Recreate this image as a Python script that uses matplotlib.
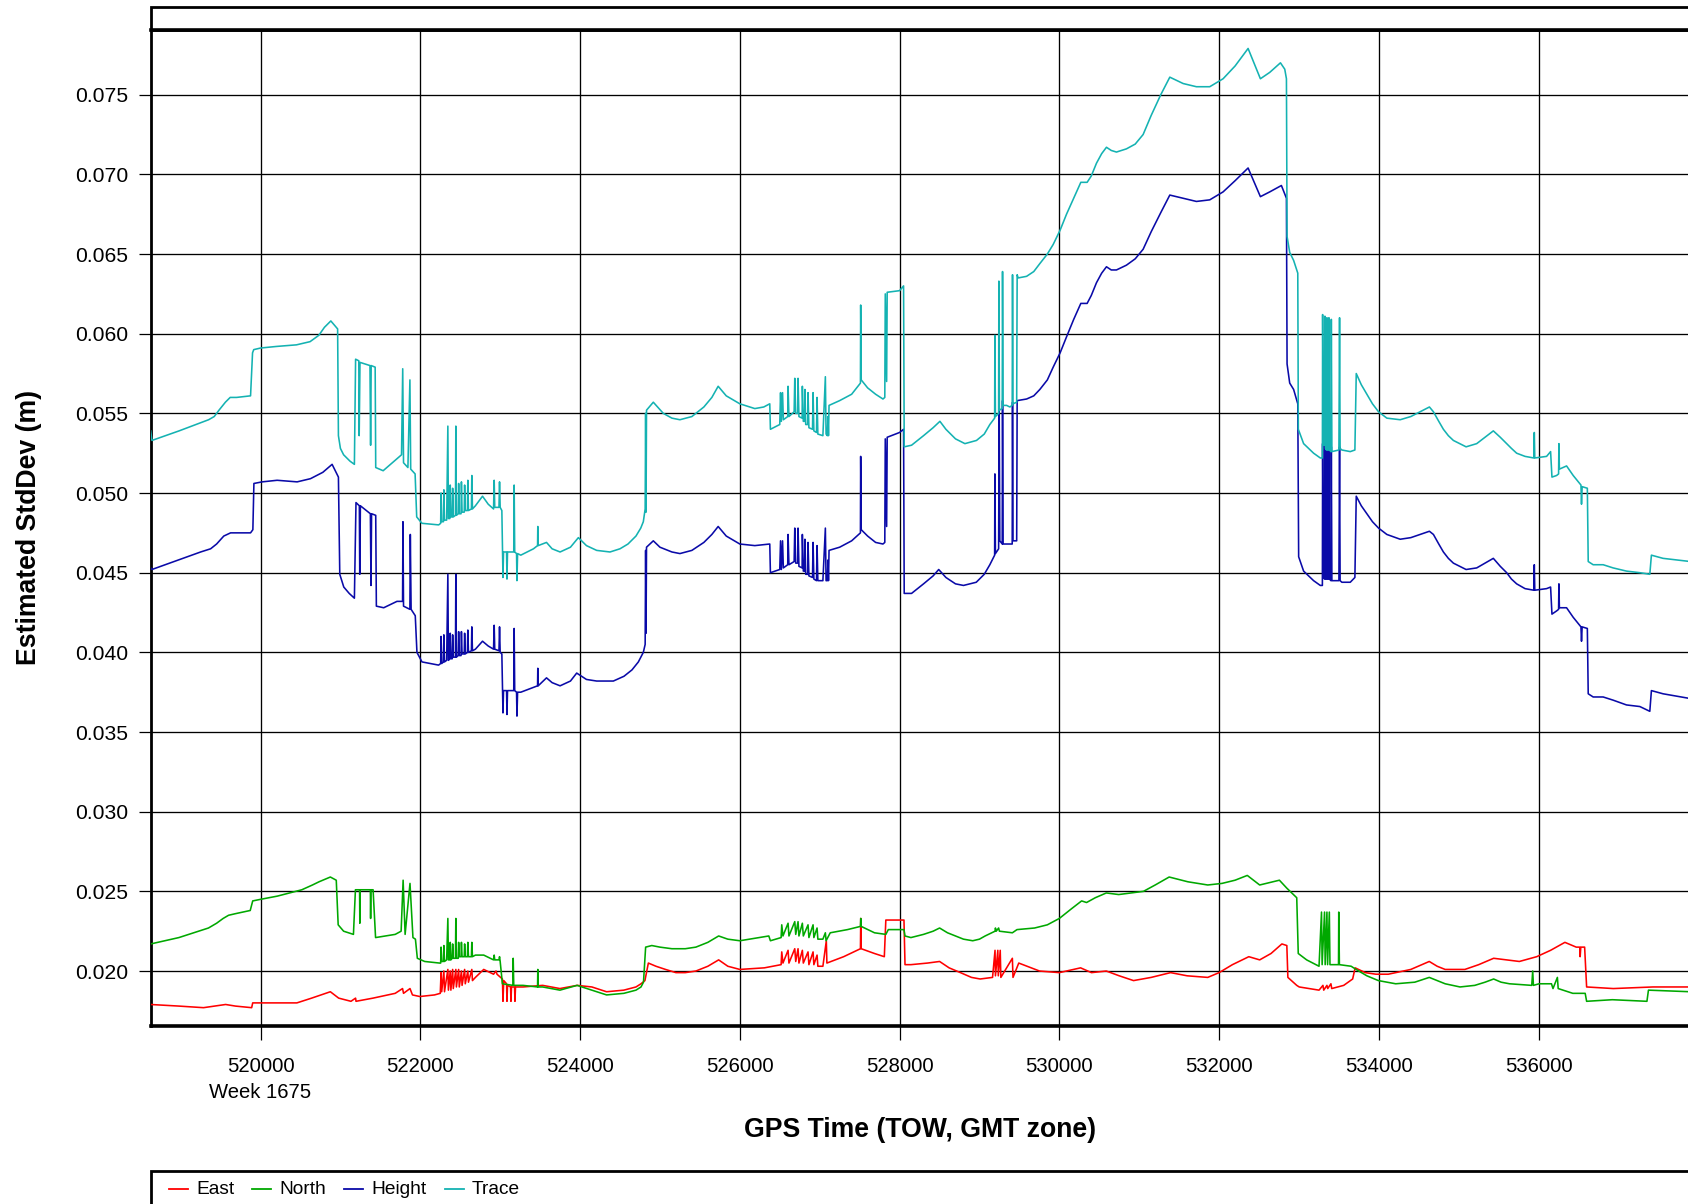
import matplotlib
matplotlib.use("Agg")
import matplotlib.pyplot as plt
from matplotlib.lines import Line2D
from matplotlib.patches import Rectangle

plt.rcParams['font.family'] = ['Liberation Sans', 'DejaVu Sans']

# ---------------- data (GPS time of week, estimated std dev in m) ----------------
EAST = [
    (518625, 0.0179), (518978, 0.0178), (519286, 0.0177), (519563, 0.0179), (519686, 0.0178),
    (519889, 0.0177), (519902, 0.0180), (520000, 0.0180), (520455, 0.0180), (520640, 0.0183),
    (520874, 0.0187), (520978, 0.0183), (521132, 0.0181), (521190, 0.0183), (521195, 0.0181),
    (521409, 0.0183), (521686, 0.0186), (521778, 0.0189), (521790, 0.0186), (521871, 0.0189),
    (521902, 0.0185), (521994, 0.0184), (522178, 0.0185), (522250, 0.0186),
    (522260, 0.0199), (522268, 0.0187), (522295, 0.0200), (522303, 0.0187), (522345, 0.0201),
    (522352, 0.0188), (522375, 0.0200), (522383, 0.0188), (522405, 0.0201), (522413, 0.0189),
    (522445, 0.0201), (522452, 0.0190), (522480, 0.0201), (522488, 0.0190), (522515, 0.0200),
    (522523, 0.0191), (522555, 0.0201), (522563, 0.0192), (522595, 0.0200), (522603, 0.0193),
    (522645, 0.0201), (522653, 0.0194), (522690, 0.0196), (522794, 0.0201), (522917, 0.0198),
    (522948, 0.0200), (522960, 0.0198), (523028, 0.0195), (523035, 0.0181), (523045, 0.0194),
    (523080, 0.0192), (523085, 0.0181), (523092, 0.0191), (523130, 0.0190), (523135, 0.0181),
    (523142, 0.0190), (523180, 0.0190), (523185, 0.0181), (523192, 0.0190), (523286, 0.0190),
    (523532, 0.0191), (523748, 0.0189), (523963, 0.0191), (524148, 0.0190), (524332, 0.0187),
    (524548, 0.0188), (524700, 0.0190), (524763, 0.0192), (524812, 0.0194), (524855, 0.0205),
    (524950, 0.0203), (525070, 0.0201), (525200, 0.0199), (525317, 0.0199), (525450, 0.0200),
    (525600, 0.0203), (525735, 0.0207), (525850, 0.0203), (526000, 0.0201), (526308, 0.0202),
    (526517, 0.0204), (526525, 0.0212), (526540, 0.0205), (526604, 0.0213), (526615, 0.0205),
    (526688, 0.0214), (526700, 0.0206), (526729, 0.0214), (526740, 0.0205), (526783, 0.0213),
    (526795, 0.0205), (526854, 0.0212), (526865, 0.0204), (526917, 0.0212), (526927, 0.0204),
    (526967, 0.0210), (526977, 0.0203), (527040, 0.0203), (527083, 0.0219), (527090, 0.0205),
    (527300, 0.0209), (527510, 0.0214), (527514, 0.0233), (527520, 0.0214), (527686, 0.0211),
    (527809, 0.0209), (527828, 0.0232), (528055, 0.0232), (528068, 0.0204), (528142, 0.0204),
    (528350, 0.0205), (528501, 0.0206), (528620, 0.0202), (528762, 0.0199), (528900, 0.0196),
    (529009, 0.0195), (529164, 0.0196), (529195, 0.0213),
    (529200, 0.0197), (529230, 0.0213), (529236, 0.0197), (529260, 0.0213), (529268, 0.0196),
    (529412, 0.0208), (529420, 0.0196), (529492, 0.0205), (529752, 0.0200), (530000, 0.0199),
    (530266, 0.0202), (530402, 0.0199), (530588, 0.0200), (530750, 0.0197), (530929, 0.0194),
    (531150, 0.0196), (531393, 0.0199), (531600, 0.0197), (531858, 0.0196), (532000, 0.0199),
    (532167, 0.0204), (532372, 0.0209), (532508, 0.0207), (532650, 0.0211), (532786, 0.0217),
    (532848, 0.0216), (532861, 0.0196), (532972, 0.0191), (533003, 0.0190), (533251, 0.0188),
    (533300, 0.0191), (533310, 0.0188), (533350, 0.0191), (533360, 0.0189), (533400, 0.0192),
    (533410, 0.0189), (533560, 0.0191), (533672, 0.0195), (533703, 0.0202), (533830, 0.0199),
    (533963, 0.0198), (534118, 0.0198), (534400, 0.0201), (534631, 0.0206), (534730, 0.0203),
    (534830, 0.0201), (535077, 0.0201), (535250, 0.0204), (535437, 0.0208), (535759, 0.0206),
    (535976, 0.0209), (536150, 0.0213), (536329, 0.0218), (536471, 0.0215), (536515, 0.0215),
    (536520, 0.0209), (536528, 0.0215), (536576, 0.0215), (536601, 0.0190), (536935, 0.0189),
    (537430, 0.0190), (537900, 0.0190),
]

NORTH = [
    (518625, 0.0217), (518978, 0.0221), (519348, 0.0227), (519450, 0.0230), (519532, 0.0233),
    (519600, 0.0235), (519686, 0.0236), (519871, 0.0238), (519902, 0.0244), (520000, 0.0245),
    (520209, 0.0247), (520517, 0.0251), (520650, 0.0254), (520732, 0.0256), (520874, 0.0259),
    (520948, 0.0257), (520972, 0.0229), (521040, 0.0225),
    (521163, 0.0223), (521188, 0.0251), (521240, 0.0251), (521243, 0.0230), (521248, 0.0251),
    (521375, 0.0251), (521378, 0.0233), (521382, 0.0251), (521409, 0.0251), (521440, 0.0221),
    (521686, 0.0223), (521760, 0.0225), (521785, 0.0257), (521810, 0.0223), (521871, 0.0255),
    (521908, 0.0221), (521939, 0.0220), (521963, 0.0208), (522055, 0.0206), (522240, 0.0205),
    (522255, 0.0205), (522260, 0.0215), (522268, 0.0206), (522290, 0.0206), (522295, 0.0216),
    (522303, 0.0206), (522330, 0.0207), (522345, 0.0233), (522352, 0.0207), (522370, 0.0207),
    (522375, 0.0218), (522383, 0.0207), (522400, 0.0208), (522405, 0.0217), (522413, 0.0208),
    (522440, 0.0208), (522445, 0.0233), (522452, 0.0208), (522475, 0.0208), (522480, 0.0218),
    (522488, 0.0209), (522510, 0.0209), (522515, 0.0218), (522523, 0.0209), (522550, 0.0209),
    (522555, 0.0217), (522563, 0.0209), (522590, 0.0209), (522595, 0.0218), (522603, 0.0209),
    (522640, 0.0209), (522645, 0.0218), (522653, 0.0209), (522690, 0.0210), (522794, 0.0210),
    (522917, 0.0207), (522925, 0.0210), (522932, 0.0207), (522985, 0.0207), (522992, 0.0209),
    (523000, 0.0206), (523028, 0.0192), (523160, 0.0191), (523163, 0.0208), (523170, 0.0191),
    (523286, 0.0191), (523468, 0.0190), (523471, 0.0201), (523476, 0.0190), (523532, 0.0190),
    (523748, 0.0188), (523963, 0.0191), (524025, 0.0190), (524332, 0.0185), (524548, 0.0186),
    (524700, 0.0188), (524763, 0.0190), (524794, 0.0193), (524821, 0.0215), (524898, 0.0216),
    (525000, 0.0215), (525150, 0.0214), (525317, 0.0214), (525450, 0.0215), (525600, 0.0218),
    (525735, 0.0222), (525850, 0.0220), (526000, 0.0219), (526363, 0.0222),
    (526383, 0.0219), (526517, 0.0221), (526525, 0.0229), (526540, 0.0222), (526604, 0.0230),
    (526615, 0.0222), (526688, 0.0231), (526700, 0.0223), (526729, 0.0231), (526740, 0.0222),
    (526783, 0.0230), (526795, 0.0222), (526854, 0.0229), (526865, 0.0221), (526917, 0.0229),
    (526927, 0.0221), (526967, 0.0227), (526977, 0.0220), (527040, 0.0220), (527071, 0.0224),
    (527080, 0.0219), (527132, 0.0224), (527348, 0.0226), (527510, 0.0228), (527514, 0.0233),
    (527520, 0.0228), (527686, 0.0224), (527828, 0.0223), (527859, 0.0226), (528055, 0.0226),
    (528068, 0.0222), (528142, 0.0221), (528300, 0.0223), (528420, 0.0225), (528501, 0.0227),
    (528600, 0.0224), (528699, 0.0222), (528800, 0.0220), (528916, 0.0219), (529000, 0.0220),
    (529071, 0.0222), (529195, 0.0225), (529200, 0.0227), (529210, 0.0225), (529240, 0.0227),
    (529250, 0.0225), (529412, 0.0224), (529470, 0.0226), (529690, 0.0227), (529850, 0.0229),
    (530000, 0.0233), (530150, 0.0239), (530279, 0.0244), (530341, 0.0243), (530450, 0.0246),
    (530588, 0.0249), (530743, 0.0248), (530900, 0.0249), (531053, 0.0250), (531200, 0.0254),
    (531375, 0.0259), (531610, 0.0256), (531858, 0.0254), (532037, 0.0255), (532200, 0.0257),
    (532353, 0.0260), (532508, 0.0254), (532755, 0.0257), (532848, 0.0252), (532972, 0.0246),
    (532991, 0.0211), (533096, 0.0207), (533251, 0.0203), (533282, 0.0237), (533290, 0.0204),
    (533320, 0.0237), (533328, 0.0204), (533350, 0.0237), (533358, 0.0204), (533380, 0.0237),
    (533388, 0.0204), (533495, 0.0204), (533498, 0.0237), (533506, 0.0204), (533653, 0.0203),
    (533715, 0.0201), (533850, 0.0197), (533994, 0.0194), (534211, 0.0192), (534450, 0.0193),
    (534631, 0.0196), (534730, 0.0194), (534830, 0.0192), (535016, 0.0190), (535201, 0.0191),
    (535330, 0.0193), (535437, 0.0195), (535530, 0.0193), (535635, 0.0192), (535914, 0.0191),
    (535926, 0.0200), (535935, 0.0191), (536006, 0.0192), (536161, 0.0192), (536180, 0.0189),
    (536235, 0.0196), (536245, 0.0189), (536428, 0.0186), (536583, 0.0186), (536601, 0.0181),
    (536923, 0.0182), (537356, 0.0181), (537375, 0.0188), (537900, 0.0187),
]

HEIGHT = [
    (518625, 0.0453), (518640, 0.0452), (519250, 0.0463), (519375, 0.0465), (519450, 0.0468),
    (519540, 0.0473), (519625, 0.0475), (519875, 0.0475), (519904, 0.0477), (519917, 0.0506),
    (520020, 0.0507), (520208, 0.0508), (520458, 0.0507), (520625, 0.0509), (520780, 0.0513),
    (520896, 0.0518), (520975, 0.0510), (520992, 0.0449), (521042, 0.0441), (521110, 0.0437),
    (521175, 0.0434), (521195, 0.0494),
    (521237, 0.0492), (521242, 0.0449), (521250, 0.0492), (521375, 0.0487), (521383, 0.0442),
    (521390, 0.0487), (521442, 0.0486), (521450, 0.0429), (521542, 0.0428), (521708, 0.0432),
    (521778, 0.0432), (521783, 0.0482), (521790, 0.0429), (521870, 0.0427), (521875, 0.0474),
    (521885, 0.0427), (521937, 0.0423), (521958, 0.0400), (522021, 0.0394), (522229, 0.0392),
    (522255, 0.0393), (522260, 0.0410), (522268, 0.0393), (522290, 0.0394), (522295, 0.0411),
    (522303, 0.0394), (522330, 0.0395), (522345, 0.0449), (522352, 0.0395), (522370, 0.0396),
    (522375, 0.0412), (522383, 0.0396), (522400, 0.0396), (522405, 0.0411), (522413, 0.0397),
    (522440, 0.0397), (522445, 0.0449), (522452, 0.0397), (522475, 0.0398), (522480, 0.0413),
    (522488, 0.0398), (522510, 0.0398), (522515, 0.0413), (522523, 0.0399), (522550, 0.0399),
    (522555, 0.0412), (522563, 0.0399), (522590, 0.0400), (522595, 0.0414), (522603, 0.0400),
    (522640, 0.0401), (522645, 0.0416), (522653, 0.0401), (522690, 0.0402), (522779, 0.0407),
    (522850, 0.0404), (522917, 0.0402), (522925, 0.0417), (522932, 0.0402), (522985, 0.0401),
    (522992, 0.0416), (523000, 0.0400), (523021, 0.0399), (523030, 0.0377), (523035, 0.0362),
    (523042, 0.0376), (523080, 0.0376), (523085, 0.0361), (523092, 0.0376), (523170, 0.0376),
    (523175, 0.0415), (523182, 0.0376), (523205, 0.0375), (523210, 0.0360), (523218, 0.0375),
    (523258, 0.0375), (523417, 0.0378), (523468, 0.0379), (523471, 0.0390), (523476, 0.0379),
    (523580, 0.0384), (523650, 0.0381), (523750, 0.0379), (523880, 0.0382), (523958, 0.0387),
    (524080, 0.0383), (524208, 0.0382), (524417, 0.0382), (524550, 0.0385), (524650, 0.0389),
    (524730, 0.0394), (524792, 0.0400), (524815, 0.0405), (524821, 0.0464),
    (524826, 0.0412), (524832, 0.0466), (524917, 0.0470), (525000, 0.0466), (525150, 0.0463),
    (525250, 0.0462), (525400, 0.0464), (525550, 0.0469), (525650, 0.0474), (525729, 0.0479),
    (525830, 0.0473), (526000, 0.0468), (526188, 0.0467), (526375, 0.0468),
    (526383, 0.0450), (526500, 0.0452), (526510, 0.0470), (526520, 0.0452), (526535, 0.0470),
    (526545, 0.0453), (526600, 0.0455), (526604, 0.0474), (526615, 0.0455), (526680, 0.0457),
    (526688, 0.0478), (526700, 0.0456), (526725, 0.0456), (526729, 0.0478), (526740, 0.0454),
    (526780, 0.0453), (526783, 0.0474), (526795, 0.0451), (526810, 0.0451), (526815, 0.0471),
    (526825, 0.0449), (526850, 0.0449), (526854, 0.0469), (526865, 0.0448), (526910, 0.0447),
    (526917, 0.0469), (526927, 0.0446), (526960, 0.0445), (526967, 0.0467), (526977, 0.0445),
    (527040, 0.0445), (527071, 0.0478), (527080, 0.0445), (527096, 0.0445), (527104, 0.0458),
    (527110, 0.0445), (527117, 0.0464), (527250, 0.0466), (527400, 0.0470), (527510, 0.0475),
    (527513, 0.0523), (527520, 0.0477), (527600, 0.0473), (527700, 0.0469), (527792, 0.0468),
    (527815, 0.0469), (527821, 0.0534),
    (527838, 0.0479), (527845, 0.0535), (528000, 0.0538), (528050, 0.0540), (528058, 0.0437),
    (528150, 0.0437), (528300, 0.0443), (528420, 0.0448), (528490, 0.0452), (528580, 0.0447),
    (528700, 0.0443), (528800, 0.0442), (528960, 0.0444), (529060, 0.0449), (529130, 0.0455),
    (529190, 0.0461), (529193, 0.0512),
    (529200, 0.0462), (529240, 0.0465), (529247, 0.0553), (529255, 0.0470), (529285, 0.0468),
    (529289, 0.0558), (529296, 0.0468), (529380, 0.0468), (529410, 0.0468), (529414, 0.0557),
    (529420, 0.0470), (529466, 0.0470), (529472, 0.0558), (529590, 0.0559), (529680, 0.0561),
    (529756, 0.0565), (529850, 0.0571), (529923, 0.0579), (530010, 0.0588), (530090, 0.0598),
    (530180, 0.0609), (530269, 0.0619), (530348, 0.0619), (530400, 0.0624), (530465, 0.0632),
    (530530, 0.0638), (530590, 0.0642), (530650, 0.0640), (530715, 0.0640), (530840, 0.0643),
    (530950, 0.0647), (531049, 0.0653), (531150, 0.0664), (531270, 0.0676), (531383, 0.0687),
    (531550, 0.0685), (531716, 0.0683), (531883, 0.0684), (532050, 0.0689), (532200, 0.0696),
    (532363, 0.0704), (532517, 0.0686),
    (532634, 0.0689), (532780, 0.0693), (532843, 0.0685), (532851, 0.0581), (532884, 0.0569),
    (532933, 0.0565), (532985, 0.0556), (532996, 0.0460), (533058, 0.0451), (533183, 0.0445),
    (533267, 0.0442), (533293, 0.0442), (533296, 0.0531), (533305, 0.0447), (533320, 0.0446),
    (533325, 0.0531), (533332, 0.0446), (533345, 0.0446), (533350, 0.0530), (533357, 0.0446),
    (533370, 0.0446), (533375, 0.0530), (533382, 0.0446), (533400, 0.0445), (533405, 0.0529),
    (533412, 0.0445), (533500, 0.0445), (533508, 0.0529), (533515, 0.0445), (533537, 0.0444),
    (533642, 0.0444), (533700, 0.0447), (533717, 0.0498), (533780, 0.0492), (533850, 0.0487),
    (533920, 0.0482), (533996, 0.0478), (534100, 0.0474), (534267, 0.0471), (534400, 0.0472),
    (534517, 0.0474), (534633, 0.0476), (534683, 0.0474), (534750, 0.0468), (534808, 0.0463),
    (534870, 0.0459), (534933, 0.0456), (535092, 0.0452), (535225, 0.0453), (535330, 0.0456),
    (535433, 0.0459), (535520, 0.0454), (535600, 0.0450), (535660, 0.0446), (535725, 0.0443),
    (535830, 0.0440), (535940, 0.0439), (535946, 0.0455), (535952, 0.0439),
    (536100, 0.0440), (536150, 0.0441), (536167, 0.0424), (536225, 0.0426), (536250, 0.0427),
    (536254, 0.0443), (536260, 0.0428), (536350, 0.0428), (536433, 0.0422), (536530, 0.0416),
    (536537, 0.0407), (536545, 0.0416), (536610, 0.0415), (536621, 0.0374), (536683, 0.0372),
    (536808, 0.0372), (536933, 0.0370), (537100, 0.0367), (537267, 0.0366), (537392, 0.0363),
    (537412, 0.0376), (537558, 0.0374), (537900, 0.0371),
]

TRACE = [
    (518625, 0.0539), (518640, 0.0533), (518980, 0.0539), (519350, 0.0546), (519420, 0.0548),
    (519480, 0.0552), (519560, 0.0557), (519620, 0.0560), (519700, 0.0560), (519875, 0.0561),
    (519900, 0.0588), (519915, 0.0590), (520000, 0.0591), (520200, 0.0592), (520450, 0.0593),
    (520620, 0.0595), (520730, 0.0599), (520800, 0.0604), (520880, 0.0608), (520965, 0.0603),
    (520975, 0.0536), (521000, 0.0528), (521040, 0.0524),
    (521120, 0.0520), (521175, 0.0518), (521190, 0.0584), (521230, 0.0583), (521235, 0.0536),
    (521245, 0.0582), (521370, 0.0580), (521378, 0.0530), (521385, 0.0580), (521435, 0.0579),
    (521442, 0.0516), (521535, 0.0514), (521650, 0.0519), (521765, 0.0524), (521780, 0.0578),
    (521790, 0.0519), (521845, 0.0516), (521870, 0.0571), (521880, 0.0515), (521935, 0.0512),
    (521955, 0.0485), (522020, 0.0481), (522230, 0.0480), (522255, 0.0481), (522260, 0.0500),
    (522268, 0.0482), (522290, 0.0482), (522295, 0.0502), (522303, 0.0483), (522330, 0.0483),
    (522345, 0.0542), (522352, 0.0484), (522370, 0.0484), (522375, 0.0505), (522383, 0.0485),
    (522400, 0.0485), (522405, 0.0503), (522413, 0.0485), (522440, 0.0486), (522445, 0.0542),
    (522452, 0.0486), (522475, 0.0487), (522480, 0.0506), (522488, 0.0487), (522510, 0.0487),
    (522515, 0.0507), (522523, 0.0488), (522550, 0.0488), (522555, 0.0505), (522563, 0.0489),
    (522590, 0.0489), (522595, 0.0508), (522603, 0.0489), (522640, 0.0490), (522645, 0.0511),
    (522653, 0.0490), (522690, 0.0492), (522779, 0.0498), (522850, 0.0493), (522917, 0.0490),
    (522925, 0.0508), (522932, 0.0491), (522985, 0.0491), (522992, 0.0507), (523000, 0.0491),
    (523021, 0.0489), (523030, 0.0464), (523035, 0.0447), (523042, 0.0463), (523080, 0.0463),
    (523085, 0.0446), (523092, 0.0463), (523170, 0.0463), (523175, 0.0505), (523182, 0.0463),
    (523205, 0.0462), (523210, 0.0445), (523218, 0.0462), (523258, 0.0461), (523417, 0.0465),
    (523468, 0.0467), (523471, 0.0479), (523476, 0.0467), (523580, 0.0469), (523650, 0.0465),
    (523750, 0.0463), (523880, 0.0466), (523979, 0.0472), (524080, 0.0467), (524208, 0.0464),
    (524375, 0.0463), (524500, 0.0465), (524600, 0.0468), (524700, 0.0473), (524760, 0.0478),
    (524792, 0.0482), (524815, 0.0490), (524821, 0.0550), (524826, 0.0488), (524832, 0.0552),
    (524917, 0.0557), (525042, 0.0550), (525150, 0.0547), (525250, 0.0546), (525400, 0.0548),
    (525550, 0.0554), (525650, 0.0560), (525729, 0.0567), (525830, 0.0561), (526000, 0.0556),
    (526188, 0.0553), (526300, 0.0554), (526375, 0.0556), (526383, 0.0540), (526500, 0.0543),
    (526510, 0.0563), (526520, 0.0545), (526535, 0.0563), (526545, 0.0546), (526600, 0.0548),
    (526604, 0.0567), (526615, 0.0548), (526680, 0.0551), (526688, 0.0572), (526700, 0.0550),
    (526725, 0.0550), (526729, 0.0572), (526740, 0.0548), (526780, 0.0547), (526783, 0.0567),
    (526795, 0.0545), (526810, 0.0545), (526815, 0.0565), (526825, 0.0543), (526850, 0.0543),
    (526854, 0.0563), (526865, 0.0541), (526910, 0.0540), (526917, 0.0563), (526927, 0.0539),
    (526960, 0.0538), (526967, 0.0560), (526977, 0.0537), (527040, 0.0536), (527071, 0.0573),
    (527080, 0.0537), (527096, 0.0536), (527104, 0.0548), (527110, 0.0536), (527117, 0.0555),
    (527250, 0.0558), (527400, 0.0562), (527510, 0.0569), (527513, 0.0618), (527520, 0.0571),
    (527600, 0.0566), (527700, 0.0562), (527792, 0.0559), (527815, 0.0560), (527821, 0.0625),
    (527838, 0.0570), (527845, 0.0626), (528000, 0.0627), (528050, 0.0630), (528058, 0.0529),
    (528150, 0.0530), (528300, 0.0536), (528420, 0.0541), (528505, 0.0545), (528580, 0.0540),
    (528700, 0.0534), (528818, 0.0531), (528963, 0.0533), (529060, 0.0537), (529130, 0.0543),
    (529190, 0.0547), (529193, 0.0599), (529200, 0.0548), (529240, 0.0550), (529243, 0.0633),
    (529250, 0.0552), (529285, 0.0553), (529289, 0.0639), (529296, 0.0555), (529340, 0.0555),
    (529380, 0.0554), (529410, 0.0555), (529414, 0.0637), (529420, 0.0556), (529466, 0.0557),
    (529472, 0.0637), (529485, 0.0635), (529590, 0.0636), (529680, 0.0639), (529756, 0.0644),
    (529850, 0.0650), (529923, 0.0656), (530010, 0.0665), (530090, 0.0675), (530180, 0.0685),
    (530269, 0.0695), (530348, 0.0695), (530400, 0.0699), (530465, 0.0707), (530530, 0.0713),
    (530590, 0.0717), (530650, 0.0715), (530715, 0.0714), (530840, 0.0716), (530950, 0.0719),
    (531049, 0.0725), (531150, 0.0737), (531270, 0.0750), (531383, 0.0761), (531550, 0.0757),
    (531716, 0.0755), (531883, 0.0755), (532050, 0.0760), (532200, 0.0768), (532363, 0.0779),
    (532517, 0.0760), (532634, 0.0764),
    (532768, 0.0770), (532822, 0.0766), (532843, 0.0760), (532851, 0.0661), (532884, 0.0651),
    (532933, 0.0646), (532985, 0.0638), (532992, 0.0540), (533058, 0.0531), (533183, 0.0525),
    (533267, 0.0522), (533293, 0.0522), (533296, 0.0612), (533305, 0.0530), (533320, 0.0530),
    (533325, 0.0611), (533332, 0.0528), (533345, 0.0527), (533350, 0.0610), (533357, 0.0527),
    (533370, 0.0527), (533375, 0.0610), (533382, 0.0527), (533400, 0.0526), (533405, 0.0609),
    (533412, 0.0526), (533500, 0.0527), (533508, 0.0610), (533515, 0.0528), (533537, 0.0527),
    (533642, 0.0526), (533700, 0.0527), (533717, 0.0575), (533780, 0.0568), (533850, 0.0562),
    (533920, 0.0556), (533996, 0.0551), (534100, 0.0547), (534267, 0.0546), (534400, 0.0548),
    (534517, 0.0551), (534633, 0.0554), (534683, 0.0551), (534750, 0.0545), (534808, 0.0540),
    (534870, 0.0536), (534933, 0.0533), (535092, 0.0529), (535225, 0.0531), (535330, 0.0535),
    (535433, 0.0539), (535520, 0.0535), (535600, 0.0531), (535660, 0.0528), (535725, 0.0525),
    (535830, 0.0523), (535940, 0.0522), (535946, 0.0538), (535952, 0.0522),
    (536100, 0.0523), (536150, 0.0526), (536167, 0.0510), (536225, 0.0511), (536250, 0.0512),
    (536254, 0.0531), (536260, 0.0515), (536350, 0.0517), (536433, 0.0511), (536530, 0.0505),
    (536537, 0.0493), (536545, 0.0504), (536610, 0.0503), (536621, 0.0457), (536683, 0.0455),
    (536808, 0.0455), (536933, 0.0453), (537100, 0.0451), (537267, 0.0450), (537392, 0.0449),
    (537412, 0.0461), (537558, 0.0459), (537900, 0.0457),
]

SERIES_NAMES = ["East", "North", "Height", "Trace"]
X_TICKS = [520000, 522000, 524000, 526000, 528000, 530000, 532000, 534000, 536000]
Y_TICKS = [0.020, 0.025, 0.030, 0.035, 0.040, 0.045, 0.050, 0.055, 0.060, 0.065, 0.070, 0.075]
WEEK_LABEL = "Week 1675"
X_LABEL = "GPS Time (TOW, GMT zone)"
Y_LABEL = "Estimated StdDev (m)"

COLORS = {"East": "#ff0000", "North": "#00a800", "Height": "#0a0aa8", "Trace": "#14b2b2"}

# ---------------- figure ----------------
W, H = 1688, 1204
fig = plt.figure(figsize=(W / 100, H / 100), dpi=100)

x0, x1 = 518625, 538000
y0, y1 = 0.01655, 0.07906
ax_left, ax_top, ax_bottom = 150.7, 30.0, 1026.0
px_per_tow = 0.07988
ax_w = (x1 - x0) * px_per_tow
ax = fig.add_axes([ax_left / W, 1 - ax_bottom / H, ax_w / W, (ax_bottom - ax_top) / H])

data = {"East": EAST, "North": NORTH, "Height": HEIGHT, "Trace": TRACE}
for name in SERIES_NAMES:
    xs = [p[0] for p in data[name]]
    ys = [p[1] for p in data[name]]
    ax.plot(xs, ys, color=COLORS[name], lw=1.15, zorder=3)

ax.set_xlim(x0, x1)
ax.set_ylim(y0, y1)
ax.set_xticks(X_TICKS)
ax.set_xticklabels([str(t) for t in X_TICKS])
ax.set_yticks(Y_TICKS)
ax.set_yticklabels([f"{v:.3f}" for v in Y_TICKS])
ax.grid(True, color="black", lw=0.95, zorder=1)
ax.tick_params(axis='x', direction='out', length=10, width=0.9, pad=12, labelsize=14.6)
ax.tick_params(axis='y', direction='out', length=8.5, width=0.9, pad=7.5, labelsize=15.2)

for side, lw in (("left", 2.0), ("bottom", 2.6), ("top", 2.6), ("right", 2.0)):
    ax.spines[side].set_linewidth(lw)
    ax.spines[side].set_color("black")

# Week label under first tick
fig.text(ax_left / W + (520000 - x0) * px_per_tow / W, 1 - 1092 / H, WEEK_LABEL,
         ha="center", va="center", fontsize=14.6)

# axis titles
fig.text(920 / W, 1 - 1130 / H, X_LABEL, ha="center", va="center",
         fontsize=19.2, fontweight="bold")
fig.text(29 / W, 1 - 527 / H, Y_LABEL, ha="center", va="center", rotation=90,
         fontsize=19.2, fontweight="bold")

# empty title box above the plot
fig.add_artist(Rectangle((ax_left / W, 1 - 30 / H), 1.2, 23 / H, transform=fig.transFigure,
                         fill=False, edgecolor="black", lw=2.0, clip_on=False))

# legend box at the bottom
fig.add_artist(Rectangle((ax_left / W, -0.05), 1.2, 0.05 + (H - 1171) / H,
                         transform=fig.transFigure, fill=False, edgecolor="black",
                         lw=2.0, clip_on=False))
leg_y = 1 - 1189 / H
leg_x = {"East": 169, "North": 252, "Height": 344, "Trace": 445}
for name in SERIES_NAMES:
    lx = leg_x[name]
    fig.add_artist(Line2D([lx / W, (lx + 19) / W], [leg_y, leg_y], transform=fig.transFigure,
                          color=COLORS[name], lw=1.3))
    fig.text((lx + 27) / W, leg_y, name, ha="left", va="center", fontsize=13.8)

fig.savefig("out.png", dpi=100)
